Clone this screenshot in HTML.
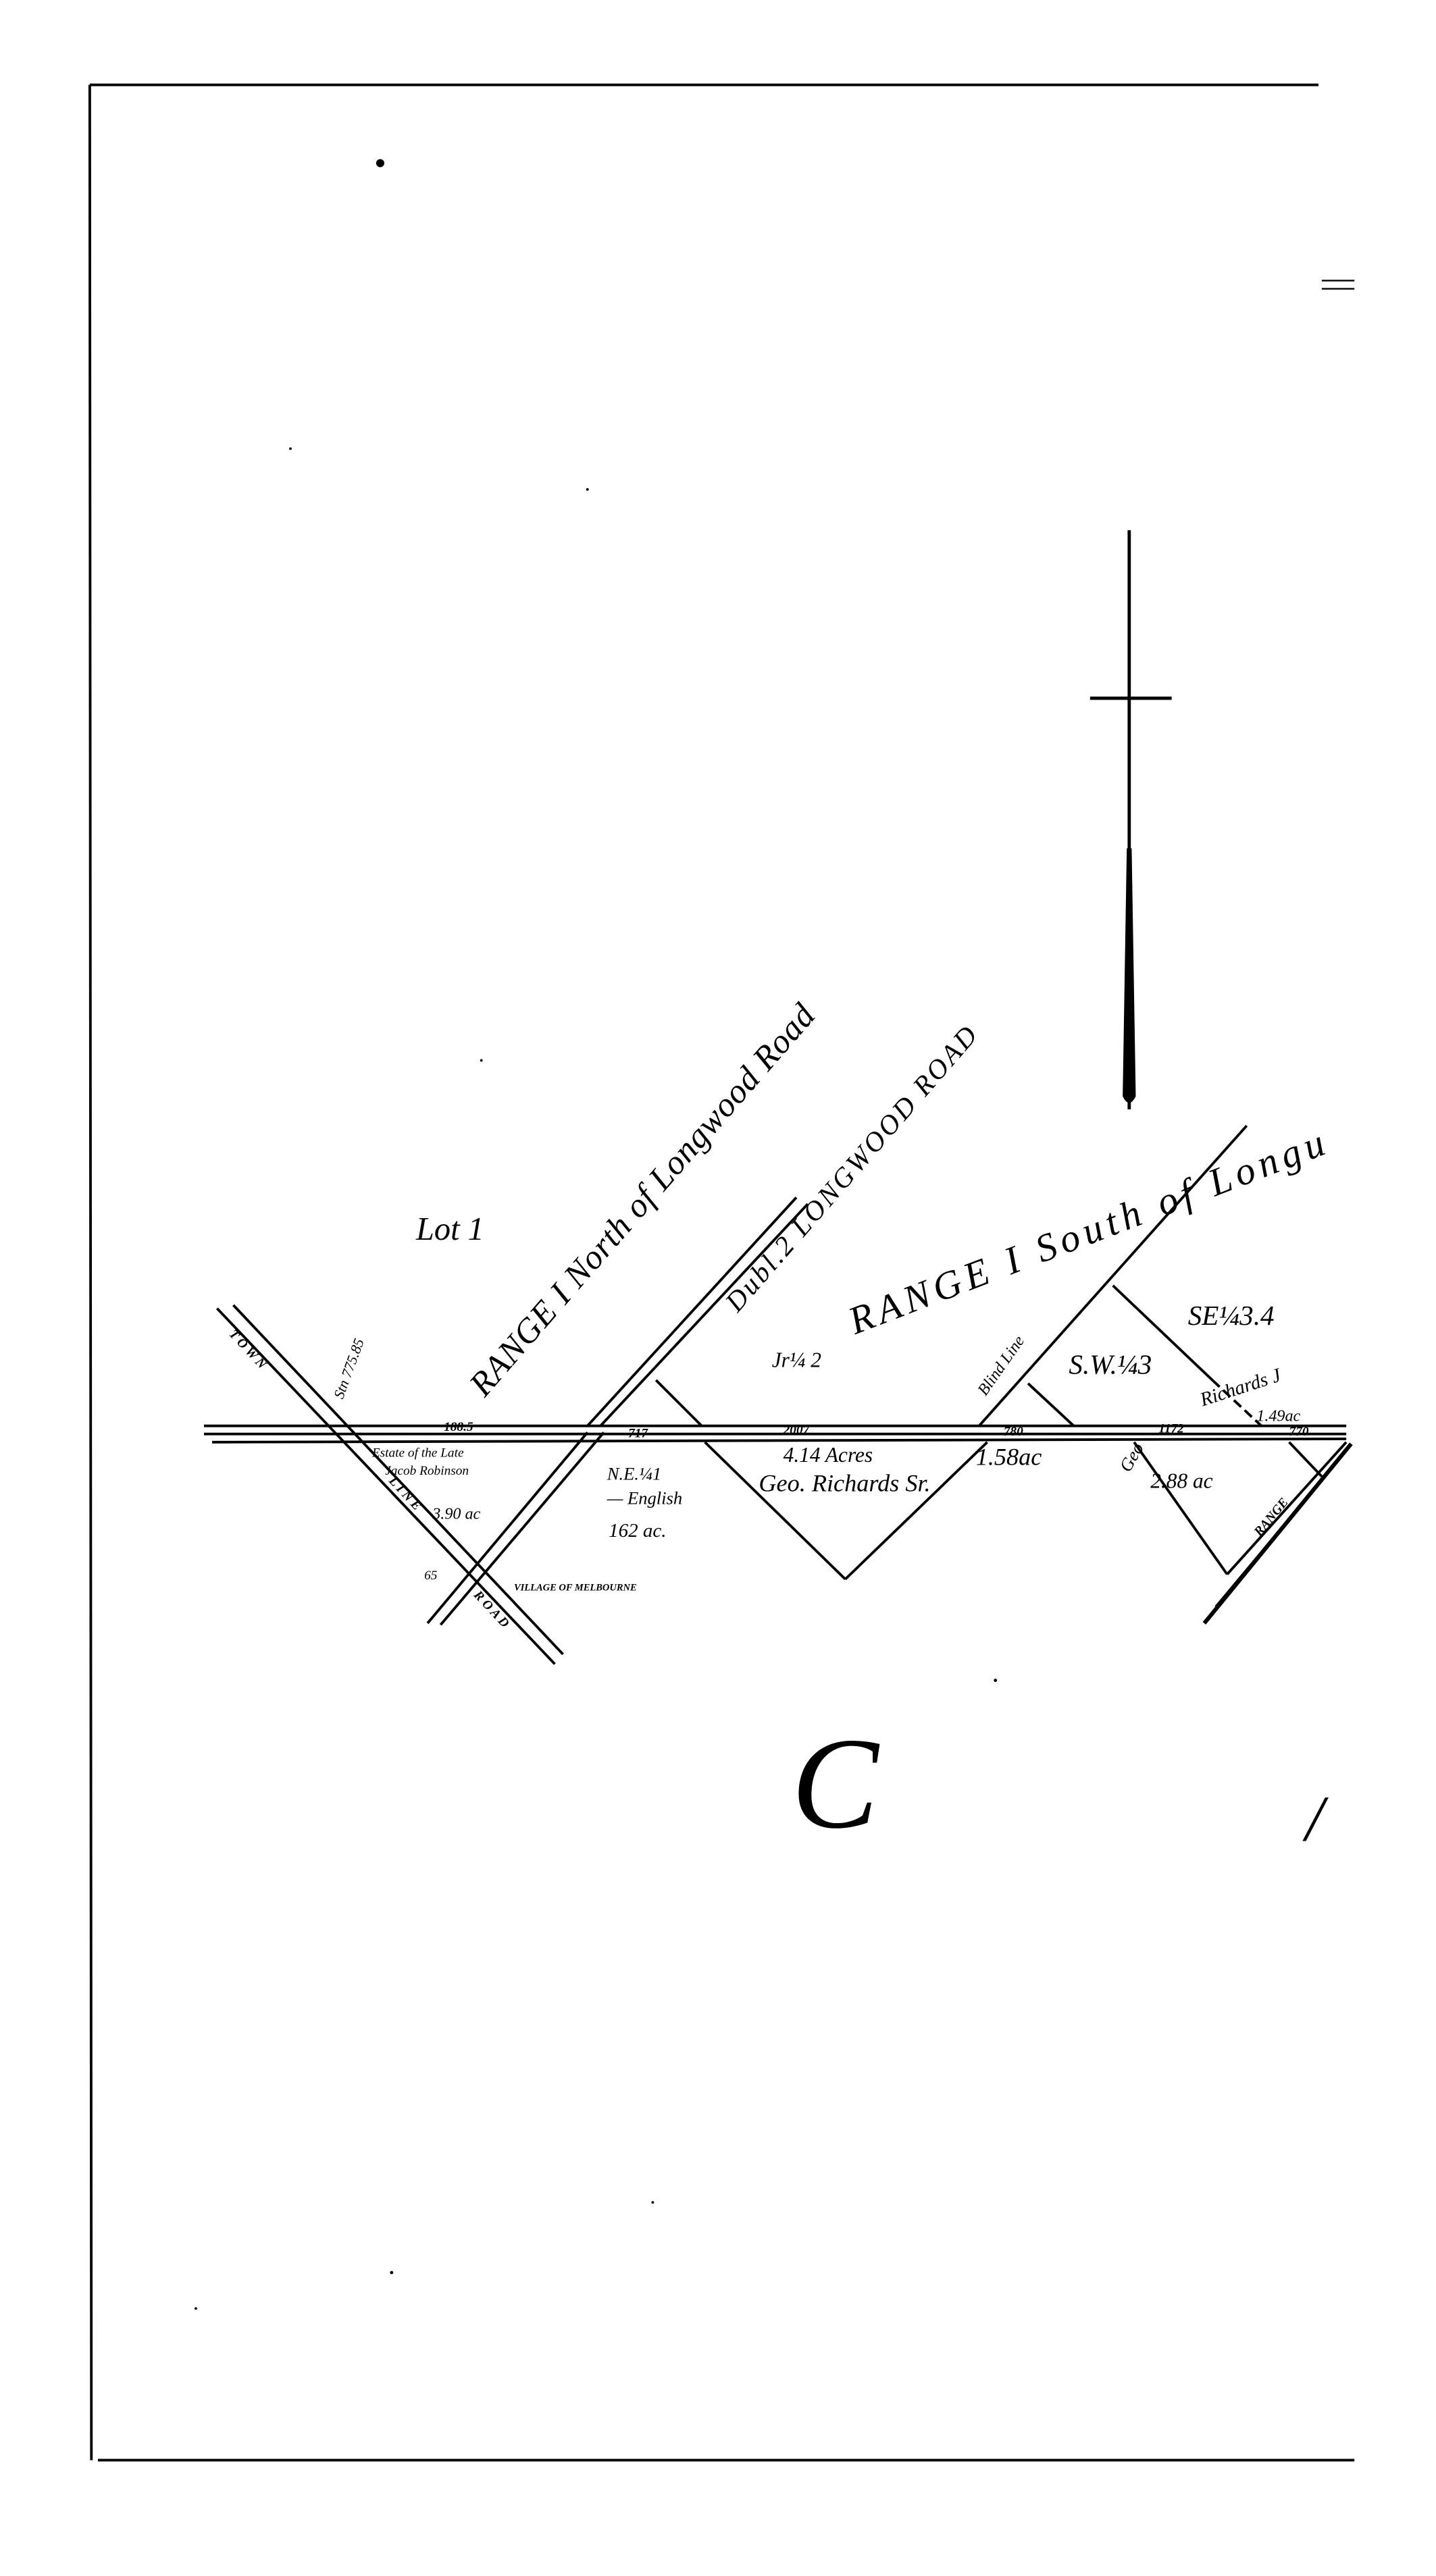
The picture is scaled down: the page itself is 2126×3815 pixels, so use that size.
<!DOCTYPE html>
<html><head><meta charset="utf-8"><style>
html,body{margin:0;padding:0;background:#fff;}
svg{display:block;}
text{font-family:"Liberation Serif",serif;fill:#000;font-style:italic;}
.s{font-family:"Liberation Sans",sans-serif;font-weight:bold;}
</style></head><body>
<svg width="2126" height="3815" viewBox="0 0 880 1579" preserveAspectRatio="none" xmlns="http://www.w3.org/2000/svg">
<g stroke="#000" fill="none" stroke-width="1.6">
<line x1="55" y1="52" x2="808" y2="52"/>
<line x1="55" y1="52" x2="56" y2="1508"/>
<line x1="60" y1="1508" x2="830" y2="1508"/>
<line x1="810" y1="172" x2="830" y2="172" stroke-width="1"/>
<line x1="810" y1="177" x2="830" y2="177" stroke-width="1"/>
<line x1="692" y1="325" x2="692" y2="680" stroke-width="2"/>
<line x1="668" y1="428" x2="718" y2="428" stroke-width="2"/>
<line x1="125" y1="874" x2="825" y2="874"/>
<line x1="125" y1="879" x2="825" y2="879"/>
<line x1="130" y1="884" x2="825" y2="882"/>
<line x1="133" y1="802" x2="340" y2="1020"/>
<line x1="143" y1="800" x2="345" y2="1014"/>
<line x1="360" y1="878" x2="262" y2="995"/>
<line x1="370" y1="878" x2="270" y2="996"/>
<line x1="360" y1="874" x2="488" y2="734"/>
<line x1="368" y1="874" x2="495" y2="738"/>
<line x1="600" y1="874" x2="764" y2="690"/>
<line x1="402" y1="846" x2="430" y2="874"/>
<line x1="432" y1="884" x2="518" y2="968"/>
<line x1="518" y1="968" x2="605" y2="884"/>
<line x1="630" y1="848" x2="658" y2="874"/>
<line x1="682" y1="788" x2="743" y2="846"/>
<line x1="743" y1="846" x2="773" y2="874" stroke-dasharray="6 3"/>
<line x1="695" y1="884" x2="752" y2="965"/>
<line x1="752" y1="965" x2="825" y2="884"/>
<line x1="790" y1="884" x2="810" y2="905"/>
<line x1="738" y1="995" x2="828" y2="885" stroke-width="2.5"/>
<line x1="745" y1="985" x2="826" y2="888"/>
</g>
<path d="M690.5,520 L693.5,520 L696,672 Q692,680 688,672 Z" fill="#000"/>
<circle cx="233" cy="100" r="2.5" fill="#000"/>
<g fill="#000"><circle cx="178" cy="275" r=".8"/><circle cx="360" cy="300" r=".8"/><circle cx="610" cy="1030" r="1"/><circle cx="240" cy="1393" r="1"/><circle cx="400" cy="1350" r=".8"/><circle cx="120" cy="1415" r=".8"/><circle cx="295" cy="650" r=".8"/></g>
<text x="255" y="760" font-size="20">Lot 1</text>
<text transform="translate(297,857) rotate(-49)" font-size="21" textLength="310" lengthAdjust="spacing">RANGE I  North of Longwood Road</text>
<text transform="translate(452,805) rotate(-49)" font-size="17" textLength="225" lengthAdjust="spacing">Dubl.2  LONGWOOD  ROAD</text>
<text transform="translate(524,818) rotate(-21)" font-size="24" textLength="310" lengthAdjust="spacing">RANGE  I   South of Longu</text>
<text x="473" y="838" font-size="13">Jr¼ 2</text>
<text x="655" y="842" font-size="17">S.W.¼3</text>
<text x="728" y="812" font-size="17">SE¼3.4</text>
<text transform="translate(737,862) rotate(-18)" font-size="12">Richards J</text>
<text x="770" y="871" font-size="10">1.49ac</text>
<text transform="translate(604,856) rotate(-55)" font-size="10">Blind Line</text>
<text transform="translate(210,858) rotate(-70)" font-size="9">Stn 775.85</text>
<g font-size="8" class="s">
<text x="272" y="877">188.5</text><text x="385" y="881">717</text><text x="480" y="879">2007</text><text x="615" y="880">780</text><text x="710" y="878">1172</text><text x="790" y="880">770</text>
<text x="315" y="975" font-size="6">VILLAGE OF MELBOURNE</text>
<text transform="translate(140,818) rotate(47)">T O W N</text>
<text transform="translate(238,908) rotate(47)">L I N E</text>
<text transform="translate(290,978) rotate(47)">R O A D</text>
<text transform="translate(772,942) rotate(-50)">RANGE</text>
</g>
<text x="228" y="893" font-size="8">Estate of the Late</text>
<text x="236" y="904" font-size="8">Jacob Robinson</text>
<text x="265" y="931" font-size="10">3.90 ac</text>
<text x="260" y="968" font-size="8">65</text>
<text x="372" y="907" font-size="11">N.E.¼1</text>
<text x="372" y="922" font-size="11">— English</text>
<text x="373" y="942" font-size="12">162 ac.</text>
<text x="480" y="896" font-size="13">4.14 Acres</text>
<text x="598" y="898" font-size="15">1.58ac</text>
<text x="465" y="914" font-size="15">Geo. Richards Sr.</text>
<text x="705" y="912" font-size="13">2.88 ac</text>
<text transform="translate(692,903) rotate(-60)" font-size="11">Geo</text>
<text x="485" y="1120" font-size="80" font-family="Liberation Serif">C</text>
<text x="800" y="1128" font-size="40">/</text>
</svg>
</body></html>
